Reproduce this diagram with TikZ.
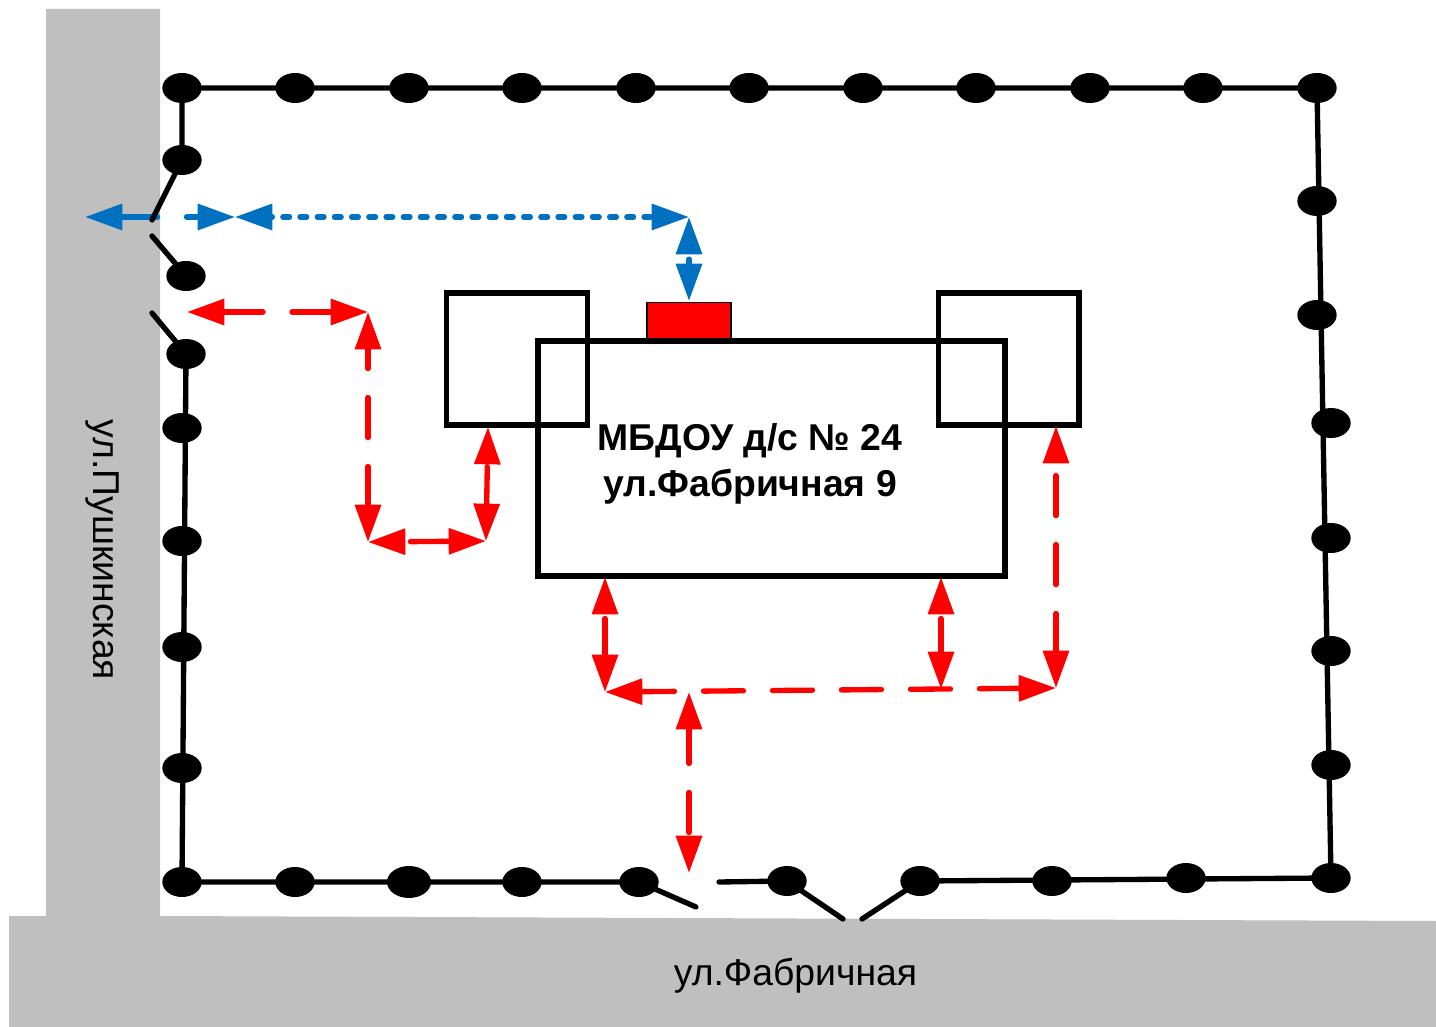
\documentclass[tikz,border=0pt]{standalone}
\usepackage{fontspec}
\setmainfont{Liberation Sans}
\usetikzlibrary{arrows.meta,shapes.geometric}
\definecolor{road}{HTML}{BFBFBF}
\definecolor{bluepath}{HTML}{0070C0}
\tikzset{
  post/.style={ellipse,fill=black,draw=none,inner sep=0pt,minimum width=29.5pt,minimum height=22.5pt},
  bigpost/.style={post,minimum width=33pt,minimum height=24pt},
  fence/.style={draw=black,line width=4pt,line cap=round},
  bldg/.style={draw=black,line width=4pt,line join=miter},
  redway/.style={draw=red,line width=4pt,line cap=round,
    {Triangle[length=28pt,width=19pt]}-{Triangle[length=28pt,width=19pt]}},
  blueway/.style={draw=bluepath,line width=4pt,line cap=round,
    {Triangle[length=28pt,width=19pt]}-{Triangle[length=28pt,width=19pt]}},
  longdash/.style={dash pattern=on 30pt off 21.75pt,dash phase=#1},
  dotdash/.style={dash pattern=on 5pt off 7.9pt,dash phase=#1},
  streetlabel/.style={font=\fontsize{28}{32}\selectfont,inner sep=0pt},
  titlelabel/.style={font=\bfseries\fontsize{28}{34.5}\selectfont,align=center,inner sep=0pt}
}
\begin{document}
\begin{tikzpicture}[x=0.75pt,y=-0.75pt]
\useasboundingbox (0,0) rectangle (1436,1027);
% roads
\fill[road] (46,9) -- (160,9) -- (160,916) -- (1436,921) -- (1436,1027) -- (9,1027) -- (9,916) -- (46,916) -- cycle;
\node[streetlabel,rotate=-90] (pushkin) at (102,550) {ул.Пушкинская};
\node[streetlabel] (fabr) at (795.5,975.5) {ул.Фабричная};
% route points
\coordinate (b0) at (85,217);
\coordinate (b1p) at (235,217);
\coordinate (b2p) at (689,217);
\coordinate (b3p) at (689,301);
\coordinate (a0) at (187,312);
\coordinate (a1) at (368,312);
\coordinate (a2) at (368,542);
\coordinate (a3) at (486,541);
\coordinate (a4) at (488,427);
\coordinate (c1) at (605,577);
\coordinate (c2) at (605,692);
\coordinate (c3) at (1056,688);
\coordinate (c4) at (1056,426);
\coordinate (c5) at (941,577);
\coordinate (c6) at (941,689);
\coordinate (c7) at (689,692);
\coordinate (c8) at (689,873);
% blue routes
\draw[blueway,longdash=2.6pt] (b0) -- (b1p);
\draw[blueway,dotdash=4pt] (b1p) -- (b2p);
\draw[blueway,dotdash=8.25pt] (b2p) -- (b3p);
% posts: top
\foreach \i/\x in {1/182,2/295,3/409,4/522,5/636,6/749,7/863,8/976,9/1090,10/1203,11/1317}
  \node[post] (t\i) at (\x,88) {};
% posts: left
\node[post] (l1) at (182,160) {};
\node[post] (g1) at (186,276) {};
\node[post] (l2) at (186,354) {};
\foreach \i/\y in {3/428,4/541,5/647,6/768}
  \node[post] (l\i) at (182,\y) {};
% posts: bottom
\node[post] (b1) at (182,882) {};
\node[post] (b2) at (295,882) {};
\node[bigpost] (b3) at (409,882) {};
\node[post] (b4) at (522,882) {};
\node[post] (b5) at (639,882) {};
\node[post] (b6) at (787,881) {};
\node[post] (b7) at (920,881) {};
\node[post] (b8) at (1052,881) {};
\node[post] (b9) at (1186,878) {};
\node[post] (b10) at (1331,878) {};
% posts: right
\foreach \i/\x/\y in {1/1317/201,2/1317/315,3/1331/423,4/1331/538,5/1331/651,6/1331/765}
  \node[post] (r\i) at (\x,\y) {};
% free ends of gate leaves
\coordinate (gateA) at (152,220);
\coordinate (gateB) at (152,236);
\coordinate (gateC) at (152,313);
\coordinate (gateD) at (696,907);
\coordinate (gateE) at (719,882);
\coordinate (gateF) at (843,919);
\coordinate (gateG) at (862,919);
% fence
\draw[fence] (t1.center) -- (t11.center) -- (b10.center) -- (b7.center) -- (gateG);
\draw[fence] (t1.center) -- (l1.center) -- (gateA);
\draw[fence] (gateB) -- (g1.center);
\draw[fence] (gateC) -- (l2.center) -- (b1.center) -- (b5.center) -- (gateD);
\draw[fence] (gateE) -- (b6.center) -- (gateF);
% building
\node[draw=black,fill=red,line width=0.9pt,minimum width=63pt,minimum height=28.5pt,inner sep=0pt] (porch) at (689,321.5) {};
\draw[bldg] (446.5,293) rectangle (587.5,425);
\draw[bldg] (938.5,293) rectangle (1079,425);
\draw[bldg] (538,341) rectangle (1005,576);
\node[titlelabel] (title) at (750,464) {МБДОУ д/с № 24\\ул.Фабричная 9};
% red routes
\draw[redway,longdash=0pt] (a0) -- (a1);
\draw[redway,longdash=14.6pt] (a1) -- (a2);
\draw[redway,longdash=46.9pt] (a2) -- (a3);
\draw[redway,longdash=49pt] (a4) -- (a3);
\draw[redway,longdash=47.6pt] (c1) -- (c2);
\draw[redway,longdash=4.9pt] (c2) -- (c3);
\draw[redway,longdash=41.6pt] (c4) -- (c3);
\draw[redway,longdash=47.6pt] (c5) -- (c6);
\draw[redway,longdash=3.4pt] (c7) -- (c8);
\end{tikzpicture}
\end{document}
